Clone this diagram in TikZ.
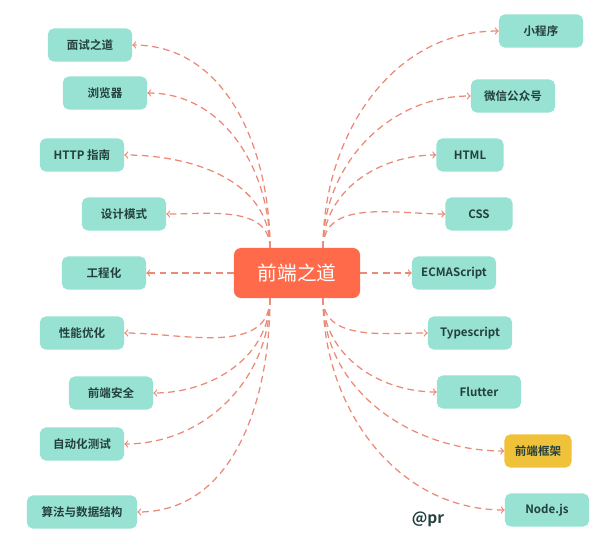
\documentclass[tikz,border=0pt]{standalone}
\usepackage{fontspec}
\setmainfont{Noto Sans CJK SC}[BoldFont={Noto Sans CJK SC Bold}]
\definecolor{mint}{HTML}{97E2D2}
\definecolor{tomato}{HTML}{FF6A4B}
\definecolor{mustard}{HTML}{F0C23A}
\definecolor{salmon}{HTML}{EC8A78}
\definecolor{ink}{HTML}{24403E}

\begin{document}
\begin{tikzpicture}[x=0.025cm,y=-0.025cm]
	\tikzstyle{topic}=[rectangle,rounded corners=4pt,fill=mint,text=ink,inner sep=0pt,minimum width=2.1cm,minimum height=0.825cm,font=\bfseries\fontsize{8.2}{10}\selectfont]
	\tikzstyle{short}=[topic,minimum width=1.675cm]
	\tikzstyle{root}=[rectangle,rounded corners=5pt,fill=tomato,text=white,inner sep=0pt,minimum width=3.15cm,minimum height=1.25cm,font=\fontsize{14}{16}\selectfont]
	\tikzstyle{link}=[->,salmon,line width=0.9pt,dash pattern=on 0.17cm off 0.11cm]
	\useasboundingbox (0,0) rectangle (607,546);
		\node[root] (fe) at (297,273) {前端之道};
		\node[topic] (ms) at (90,45) {面试之道};
		\node[topic] (br) at (105,93) {浏览器};
		\node[topic] (http) at (82,155) {HTTP 指南};
		\node[topic] (dp) at (124,214) {设计模式};
		\node[topic] (eng) at (104,273) {工程化};
		\node[topic] (perf) at (82,333) {性能优化};
		\node[topic] (sec) at (111,393) {前端安全};
		\node[topic] (test) at (82,444) {自动化测试};
		\node[topic,minimum width=2.75cm] (algo) at (82,512) {算法与数据结构};
		\node[topic] (mp) at (541,31) {小程序};
		\node[topic] (wx) at (513,96) {微信公众号};
		\node[short] (html) at (470,155) {HTML};
		\node[short] (css) at (479,214) {CSS};
		\node[topic] (es) at (454,273) {ECMAScript};
		\node[topic] (ts) at (470,333) {Typescript};
		\node[topic] (fl) at (479,392) {Flutter};
		\node[short,fill=mustard] (fw) at (538,451) {前端框架};
		\node[topic] (nd) at (547,510) {Node.js};
		\node[text=ink,font=\bfseries\fontsize{11}{13}\selectfont] (sig) at (428,519) {@pr};
		\coordinate (lt) at (270,248);
		\coordinate (rt) at (323,248);
		\coordinate (lb) at (270,298);
		\coordinate (rb) at (323,298);
			% left side
			\draw[link] (lt) to[out=90,in=0] (ms);
			\draw[link] (lt) to[out=90,in=0] (br);
			\draw[link] (lt) to[out=90,in=0] (http);
			\draw[link] (lt) to[out=90,in=0] (dp);
			\draw[link] (fe) -- (eng);
			\draw[link] (lb) to[out=-90,in=0] (perf);
			\draw[link] (lb) to[out=-90,in=0] (sec);
			\draw[link] (lb) to[out=-90,in=0] (test);
			\draw[link] (lb) to[out=-90,in=0] (algo);
			% right side
			\draw[link] (rt) to[out=90,in=180] (mp);
			\draw[link] (rt) to[out=90,in=180] (wx);
			\draw[link] (rt) to[out=90,in=180] (html);
			\draw[link] (rt) to[out=90,in=180] (css);
			\draw[link] (fe) -- (es);
			\draw[link] (rb) to[out=-90,in=180] (ts);
			\draw[link] (rb) to[out=-90,in=180] (fl);
			\draw[link] (rb) to[out=-90,in=180] (fw);
			\draw[link] (rb) to[out=-90,in=180] (nd);
\end{tikzpicture}
\end{document}
